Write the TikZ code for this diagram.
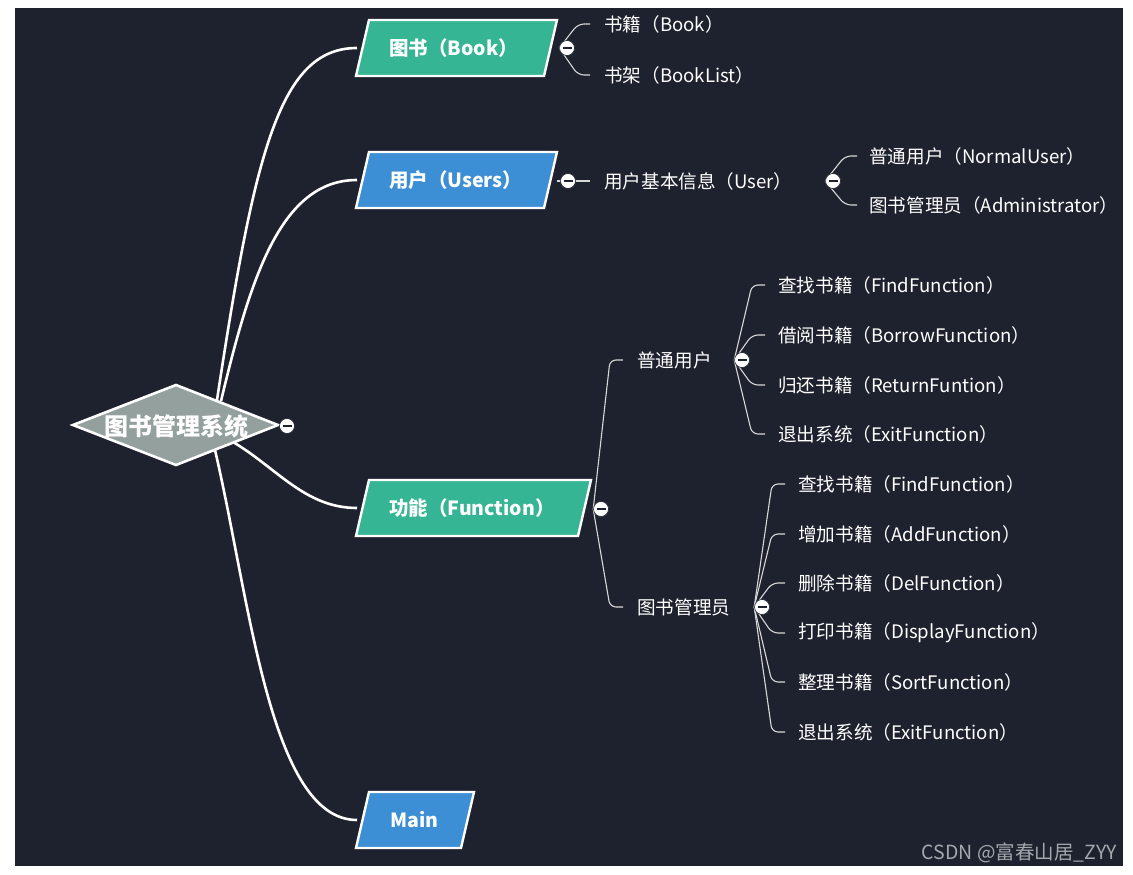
\documentclass[tikz,border=0pt]{standalone}
\usepackage{fontspec}
\setmainfont{Noto Sans CJK SC}
\definecolor{bg}{HTML}{1E222E}
\definecolor{teal}{HTML}{36B594}
\definecolor{blueb}{HTML}{3D8FD5}
\definecolor{diam}{HTML}{94A09D}
\definecolor{thinline}{HTML}{D8D8D8}
\definecolor{wm}{HTML}{A4A8AE}
\tikzset{
  main/.style={draw=white, line width=2.6pt},
  para/.style={draw=white, line width=2.4pt, line join=miter},
  plabel/.style={anchor=west, inner sep=0pt, text=white, font=\fontsize{19.5}{22}\selectfont\bfseries},
  leaf/.style={anchor=west, inner sep=0pt, text=white, font=\fontsize{18.6}{22}\selectfont},
  thin/.style={draw=thinline, line width=1.1pt, rounded corners=6pt},
  collapse/.style={circle, fill=white, draw=bg, line width=0.6pt, minimum size=15pt, inner sep=0pt,
    path picture={\draw[bg, line width=2pt] ([xshift=-4.5pt]path picture bounding box.center) -- ([xshift=4.5pt]path picture bounding box.center);}}
}
\begin{document}
\begin{tikzpicture}[x=1pt,y=-1pt]
\useasboundingbox (0,0) rectangle (1133,875);
\fill[white] (0,0) rectangle (1133,875);
\fill[bg] (15,8) rectangle (1123,866);

% main curves
\coordinate (sBook) at (217,400);
\coordinate (sUsers) at (221,401);
\coordinate (sFunc) at (233,442);
\coordinate (sMain) at (215,450);
\coordinate (bookL) at (357,48);
\coordinate (usersL) at (357,180);
\coordinate (funcL) at (357,508);
\coordinate (mainL) at (357,820);
\draw[main] (sBook) .. controls (255,150) and (280,48) .. (bookL);
\draw[main] (sUsers) .. controls (250,280) and (280,180) .. (usersL);
\draw[main] (sFunc) .. controls (277,468) and (305,508) .. (funcL);
\draw[main] (sMain) .. controls (250,600) and (270,820) .. (mainL);

% root diamond
\draw[draw=white, line width=2.6pt, fill=diam, line join=miter] (73,425) -- (176,385) -- (278,425) -- (176,465) -- cycle;
\node[text=white, inner sep=0pt, font=\fontsize{24}{27}\selectfont\bfseries] (root) at (176,426) {图书管理系统};
\node[collapse] (cRoot) at (287,426) {};

% parallelograms
\draw[para, fill=teal] (369,20) -- (557,20) -- (544,76) -- (356,76) -- cycle;
\draw[para, fill=blueb] (369,152) -- (557,152) -- (544,208) -- (356,208) -- cycle;
\draw[para, fill=teal] (369,480) -- (591,480) -- (578,536) -- (356,536) -- cycle;
\draw[para, fill=blueb] (369,792) -- (474,792) -- (461,848) -- (356,848) -- cycle;
\node[plabel] (book) at (389,48) {图书（Book）};
\node[plabel] (users) at (389,180) {用户（Users）};
\node[plabel] (func) at (389,508) {功能（Function）};
\node[plabel] (mainN) at (390,820) {Main};

% Book children
\node[collapse] (cBook) at (567,48) {};
\node[leaf] (bk1) at (604,24) {书籍（Book）};
\node[leaf] (bk2) at (604,75) {书架（BookList）};
\foreach \n in {bk1,bk2}
  \draw[thin] (cBook.west) -- ([xshift=-26pt]\n.west) -- ([xshift=-14pt]\n.west);
\node[collapse] at (567,48) {};

% Users children
\node[leaf] (uinfo) at (604,181) {用户基本信息（User）};
\draw[thin] (557,181) -- ([xshift=-14pt]uinfo.west);
\node[collapse] (cUsers) at (568,181) {};
\node[collapse] (cInfo) at (833,181) {};
\node[leaf] (u1) at (869,156) {普通用户（NormalUser）};
\node[leaf] (u2) at (869,205) {图书管理员（Administrator）};
\foreach \n in {u1,u2}
  \draw[thin] (cInfo.west) -- ([xshift=-24pt]\n.west) -- ([xshift=-12pt]\n.west);
\node[collapse] at (833,181) {};

% Function children
\node[collapse] (cFunc) at (601,509) {};
\node[leaf] (nu) at (637,360) {普通用户};
\node[leaf] (ad) at (637,607) {图书管理员};
\foreach \n in {nu,ad}
  \draw[thin] (cFunc.west) -- ([xshift=-27pt]\n.west) -- ([xshift=-14pt]\n.west);
\node[collapse] at (601,509) {};

% normal user children
\node[collapse] (cNu) at (742,360) {};
\node[leaf] (n1) at (778,285) {查找书籍（FindFunction）};
\node[leaf] (n2) at (778,335) {借阅书籍（BorrowFunction）};
\node[leaf] (n3) at (778,385) {归还书籍（ReturnFuntion）};
\node[leaf] (n4) at (778,434) {退出系统（ExitFunction）};
\foreach \n in {n1,n2,n3,n4}
  \draw[thin] (cNu.west) -- ([xshift=-26pt]\n.west) -- ([xshift=-13pt]\n.west);
\node[collapse] at (742,360) {};

% admin children
\node[collapse] (cAd) at (762,607) {};
\node[leaf] (a1) at (798,484) {查找书籍（FindFunction）};
\node[leaf] (a2) at (798,534) {增加书籍（AddFunction）};
\node[leaf] (a3) at (798,583) {删除书籍（DelFunction）};
\node[leaf] (a4) at (798,633) {打印书籍（DisplayFunction）};
\node[leaf] (a5) at (798,682) {整理书籍（SortFunction）};
\node[leaf] (a6) at (798,732) {退出系统（ExitFunction）};
\foreach \n in {a1,a2,a3,a4,a5,a6}
  \draw[thin] (cAd.west) -- ([xshift=-26pt]\n.west) -- ([xshift=-13pt]\n.west);
\node[collapse] at (762,607) {};

% watermark
\node[anchor=east, inner sep=0pt, text=wm, font=\fontsize{19.5}{22}\selectfont] (wmark) at (1117,853) {CSDN @富春山居\_ZYY};
\end{tikzpicture}
\end{document}
